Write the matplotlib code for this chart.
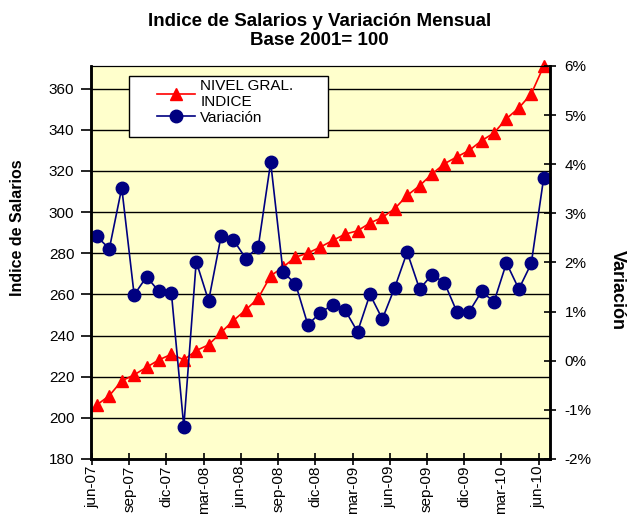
import numpy as np
import matplotlib
matplotlib.use("Agg")
import matplotlib.pyplot as plt
from matplotlib.patches import Rectangle
from matplotlib.ticker import FuncFormatter

plt.rcParams['font.family'] = ['Liberation Sans', 'DejaVu Sans']

# Monthly data, jun-07 .. jun-10
nivel = [206.3, 210.8, 218.0, 220.9, 224.6, 228.2, 230.9, 228.2, 232.7, 235.5,
         241.5, 247.3, 252.5, 258.2, 269.0, 273.3, 278.1, 280.1, 283.0, 286.2,
         289.3, 290.9, 294.7, 297.4, 301.7, 308.1, 312.8, 318.5, 323.5, 326.8,
         330.0, 334.7, 338.5, 345.4, 350.6, 357.5, 370.9]
variacion = [2.53, 2.28, 3.52, 1.34, 1.71, 1.41, 1.38, -1.34, 2.02, 1.22,
             2.53, 2.46, 2.08, 2.32, 4.04, 1.80, 1.57, 0.73, 0.98, 1.14,
             1.03, 0.59, 1.35, 0.85, 1.49, 2.21, 1.46, 1.75, 1.59, 1.00,
             1.00, 1.41, 1.20, 1.99, 1.46, 1.98, 3.72]
tick_labels = ['jun-07', 'sep-07', 'dic-07', 'mar-08', 'jun-08', 'sep-08', 'dic-08',
               'mar-09', 'jun-09', 'sep-09', 'dic-09', 'mar-10', 'jun-10']

x = np.arange(len(nivel)) + 0.4
ticks = np.arange(0, len(nivel), 3)

fig = plt.figure(figsize=(6.27, 5.18), dpi=100)
ax = fig.add_axes([0.1451, 0.1139, 0.877 - 0.1451, 0.8726 - 0.1139])
ax.set_facecolor('#FFFFCC')

ax.plot(x, nivel, color='#FF0000', marker='^', markersize=8.5, lw=1.2,
        label='NIVEL GRAL.\nINDICE', clip_on=False)
ax.set_ylim(180, 371)
ax.set_yticks(np.arange(180, 361, 20))
ax.yaxis.grid(True, color='black', lw=1)
ax.set_axisbelow(True)
ax.set_xlim(-0.08, 36.9)
ax.set_xticks(ticks)
ax.set_xticklabels(tick_labels, rotation=90, fontsize=11)
ax.tick_params(axis='x', direction='inout', length=8, width=1.2, pad=1)
ax.tick_params(axis='y', direction='out', length=7, width=1.2, pad=5, labelsize=11)

ax2 = ax.twinx()
ax2.plot(x, variacion, color='#000080', marker='o', markersize=9, lw=1.2,
         label='Variación', clip_on=False)
ax2.set_ylim(-2, 6)
ax2.set_yticks(np.arange(-2, 7, 1))
ax2.yaxis.set_major_formatter(FuncFormatter(lambda v, p: f'{v:.0f}%'))
ax2.tick_params(axis='y', direction='inout', length=9, width=1.2, pad=6, labelsize=11)

for a in (ax, ax2):
    for s in ('left', 'bottom', 'right'):
        a.spines[s].set_linewidth(1.8)
    a.spines['top'].set_linewidth(0.8)

# legend frame (Excel style box) + frameless legend inside it
ax2.add_patch(Rectangle((0.0828, 0.8193), 0.516 - 0.0828, 0.9746 - 0.8193,
                        transform=ax2.transAxes, facecolor='white',
                        edgecolor='black', lw=1, zorder=5))
h1, l1 = ax.get_legend_handles_labels()
h2, l2 = ax2.get_legend_handles_labels()
leg = ax2.legend(h1 + h2, l1 + l2, loc='upper left', bbox_to_anchor=(0.143, 0.967),
                 fontsize=11, frameon=False, handlelength=2.5, handletextpad=0.35,
                 borderpad=0, borderaxespad=0, labelspacing=0.1)
leg.set_zorder(6)

fig.text(0.51, 0.975, 'Indice de Salarios y Variación Mensual\nBase 2001= 100',
         ha='center', va='top', fontsize=13.5, fontweight='bold', linespacing=1.15)
fig.text(18 / 627, 1 - 228 / 518, 'Indice de Salarios', rotation=90,
         ha='center', va='center', fontsize=11.5, fontweight='bold')
fig.text(617 / 627, 1 - 290 / 518, 'Variación', rotation=-90,
         ha='center', va='center', fontsize=13, fontweight='bold')

fig.savefig('out.png', dpi=100)
